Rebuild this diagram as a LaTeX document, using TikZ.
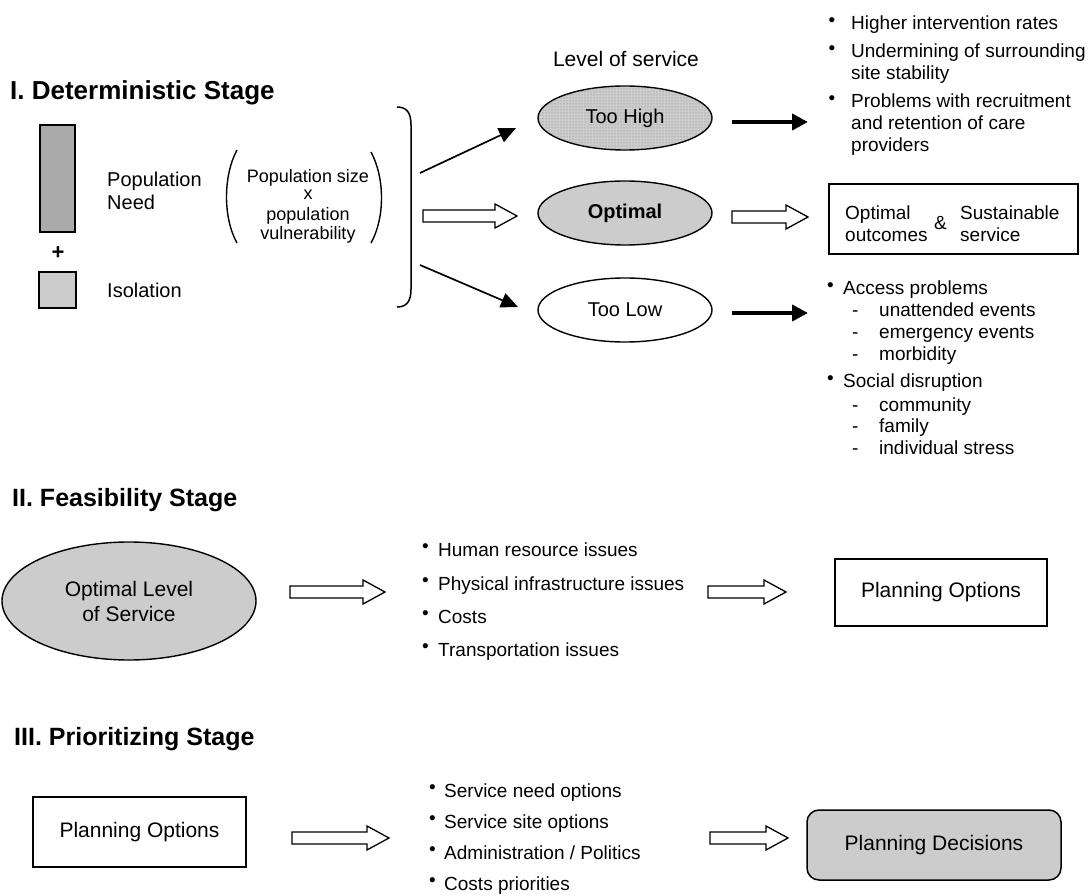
\documentclass[tikz,border=0pt]{standalone}
\usepackage{fontspec}
\setmainfont{Liberation Sans}
\usetikzlibrary{shapes.geometric,arrows.meta,calc,patterns}
\definecolor{dk}{HTML}{AAAAAA}
\definecolor{lt}{HTML}{CCCCCC}
\newcommand{\bul}{\raisebox{3.5pt}{\textbullet}}
\newcommand{\hollowarrow}[2]{%
  \draw[harrow] ($(#1)+(0,-6)$) -- ($(#2)+(-22,-6)$) -- ($(#2)+(-22,-12)$) -- (#2)
    -- ($(#2)+(-22,12)$) -- ($(#2)+(-22,6)$) -- ($(#1)+(0,6)$) -- cycle;}
\begin{document}
\begin{tikzpicture}[x=1pt,y=-1pt,
  txt/.style={inner sep=0pt,anchor=base west},
  ctxt/.style={inner sep=0pt,anchor=base},
  s18/.style={font=\fontsize{18}{20}\selectfont},
  s19/.style={font=\fontsize{19}{22}\selectfont},
  s20/.style={font=\fontsize{20}{24}\selectfont},
  s21/.style={font=\fontsize{21}{25}\selectfont},
  ttl/.style={inner sep=0pt,anchor=base west,font=\fontsize{26}{30}\selectfont\bfseries},
  ttlb/.style={inner sep=0pt,anchor=base west,font=\fontsize{25}{30}\selectfont\bfseries},
  ell/.style={ellipse,draw,line width=1.4pt,inner sep=0pt},
  box/.style={rectangle,draw,line width=1.5pt,inner sep=0pt},
  harrow/.style={draw,line width=1.3pt,fill=white,line join=miter},
  thinarrow/.style={line width=1.7pt,-{Triangle[length=17pt,width=15pt]}},
  thickarrow/.style={line width=4pt,-{Triangle[length=16pt,width=16pt]}},
]
\useasboundingbox (0,0) rectangle (1088,896);

% ---------- Stage I ----------
\node[ttl] (t1) at (10,100) {I. Deterministic Stage};

\node[box,line width=1.2pt,fill=dk,minimum width=35,minimum height=107] (needbox) at (57.5,178.5) {};
\node[inner sep=0pt] (plus) at (58,253) {\fontsize{22}{22}\selectfont\textbf{+}};
\node[box,line width=1.2pt,fill=lt,minimum width=37,minimum height=36] (isobox) at (57.5,290) {};

\node[txt,s20] (pop) at (107,187) {Population};
\node[txt,s20] (need) at (107,210) {Need};
\node[txt,s20] (isol) at (107,298) {Isolation};

\node[ctxt,s18] (ps1) at (308,183) {Population size};
\node[ctxt,s18] (ps2) at (308,200) {x};
\node[ctxt,s18] (ps3) at (308,221) {population};
\node[ctxt,s18] (ps4) at (308,240) {vulnerability};
\draw[line width=1.4pt] (237,150) .. controls (223,176) and (223,218) .. (237,243);
\draw[line width=1.4pt] (371,152) .. controls (385,178) and (385,218) .. (371,243);

\draw[line width=1.5pt] (397,107) .. controls (407,107) and (411,113) .. (411,125)
  -- (411,289) .. controls (411,301) and (407,307) .. (397,307);

\node[ctxt,s21] (los) at (626,67) {Level of service};

\node[ell,fill=lt,postaction={pattern=dots,pattern color=gray},minimum width=174,minimum height=64,s20] (hi) at (625,118) {Too High};
\node[ell,fill=lt,minimum width=174,minimum height=64,font=\fontsize{20}{22}\selectfont\bfseries] (opt) at (625,213) {Optimal};
\node[ell,fill=white,minimum width=174,minimum height=64,s20] (lo) at (625,310) {Too Low};

\coordinate (b1) at (420,173); \coordinate (b1e) at (516,128);
\coordinate (b2) at (423,216); \coordinate (b2e) at (517,216);
\coordinate (b3) at (420,265); \coordinate (b3e) at (518,307);
\draw[thinarrow] (b1) -- (b1e);
\hollowarrow{b2}{b2e}
\draw[thinarrow] (b3) -- (b3e);

\coordinate (r1) at (732,122); \coordinate (r1e) at (808,122);
\coordinate (r2) at (732,217); \coordinate (r2e) at (808,217);
\coordinate (r3) at (732,313); \coordinate (r3e) at (808,313);
\draw[thickarrow] (r1) -- (r1e);
\hollowarrow{r2}{r2e}
\draw[thickarrow] (r3) -- (r3e);

% top list
\node[txt,s19] (hb1) at (828.5,30) {\bul};
\node[txt,s19] (h1) at (851,30) {Higher intervention rates};
\node[txt,s19] (hb2) at (828.5,58) {\bul};
\node[txt,s19] (h2) at (851,58) {Undermining of surrounding};
\node[txt,s19] (h2b) at (851,80) {site stability};
\node[txt,s19] (hb3) at (828.5,108) {\bul};
\node[txt,s19] (h3) at (851,108) {Problems with recruitment};
\node[txt,s19] (h3b) at (851,130) {and retention of care};
\node[txt,s19] (h3c) at (851,152) {providers};

% outcome box
\node[box,minimum width=249,minimum height=70] (oo) at (953.5,219) {};
\node[txt,s19] (oo1) at (845,220) {Optimal};
\node[txt,s19] (oo2) at (845,242) {outcomes};
\node[txt,s19] (amp) at (934,230) {\&};
\node[txt,s19] (ss1) at (960,220) {Sustainable};
\node[txt,s19] (ss2) at (960,242) {service};

% lower list
\node[txt,s19] (lb1) at (827,295) {\bul};
\node[txt,s19] (l1) at (843,295) {Access problems};
\node[txt,s19] (ld1) at (852,317) {-};
\node[txt,s19] (l11) at (879,317) {unattended events};
\node[txt,s19] (ld2) at (852,338) {-};
\node[txt,s19] (l12) at (879,338) {emergency events};
\node[txt,s19] (ld3) at (852,360) {-};
\node[txt,s19] (l13) at (879,360) {morbidity};
\node[txt,s19] (lb2) at (827,388) {\bul};
\node[txt,s19] (l2) at (843,388) {Social disruption};
\node[txt,s19] (ld4) at (852,411) {-};
\node[txt,s19] (l21) at (879,411) {community};
\node[txt,s19] (ld5) at (852,432) {-};
\node[txt,s19] (l22) at (879,432) {family};
\node[txt,s19] (ld6) at (852,454) {-};
\node[txt,s19] (l23) at (879,454) {individual stress};

% ---------- Stage II ----------
\node[ttlb] (t2) at (12,506) {II. Feasibility Stage};
\node[ell,fill=lt,minimum width=254,minimum height=118,align=center,s21] (olos) at (129,601) {Optimal Level\\of Service};
\coordinate (f1) at (290,592); \coordinate (f1e) at (385,592);
\hollowarrow{f1}{f1e}
\node[txt,s19] (fb1) at (422,556) {\bul};
\node[txt,s19] (f11) at (438,556) {Human resource issues};
\node[txt,s19] (fb2) at (422,590) {\bul};
\node[txt,s19] (f12) at (438,590) {Physical infrastructure issues};
\node[txt,s19] (fb3) at (422,623) {\bul};
\node[txt,s19] (f13) at (438,623) {Costs};
\node[txt,s19] (fb4) at (422,656) {\bul};
\node[txt,s19] (f14) at (438,656) {Transportation issues};
\coordinate (f2) at (708,592); \coordinate (f2e) at (786,592);
\hollowarrow{f2}{f2e}
\node[box,minimum width=212,minimum height=67,s21] (po2) at (941,592.5) {Planning Options};

% ---------- Stage III ----------
\node[ttlb] (t3) at (14,745) {III. Prioritizing Stage};
\node[box,minimum width=213,minimum height=70,s21] (po3) at (139.5,832) {Planning Options};
\coordinate (p1) at (292,838); \coordinate (p1e) at (389,838);
\hollowarrow{p1}{p1e}
\node[txt,s19] (pb1) at (429,797) {\bul};
\node[txt,s19] (p11) at (444,797) {Service need options};
\node[txt,s19] (pb2) at (429,828) {\bul};
\node[txt,s19] (p12) at (444,828) {Service site options};
\node[txt,s19] (pb3) at (429,859) {\bul};
\node[txt,s19] (p13) at (444,859) {Administration / Politics};
\node[txt,s19] (pb4) at (429,890) {\bul};
\node[txt,s19] (p14) at (444,890) {Costs priorities};
\coordinate (p2) at (710,838); \coordinate (p2e) at (788,838);
\hollowarrow{p2}{p2e}
\node[box,rounded corners=12pt,fill=lt,minimum width=254,minimum height=70,s21] (pd) at (934,845) {Planning Decisions};
\end{tikzpicture}
\end{document}
